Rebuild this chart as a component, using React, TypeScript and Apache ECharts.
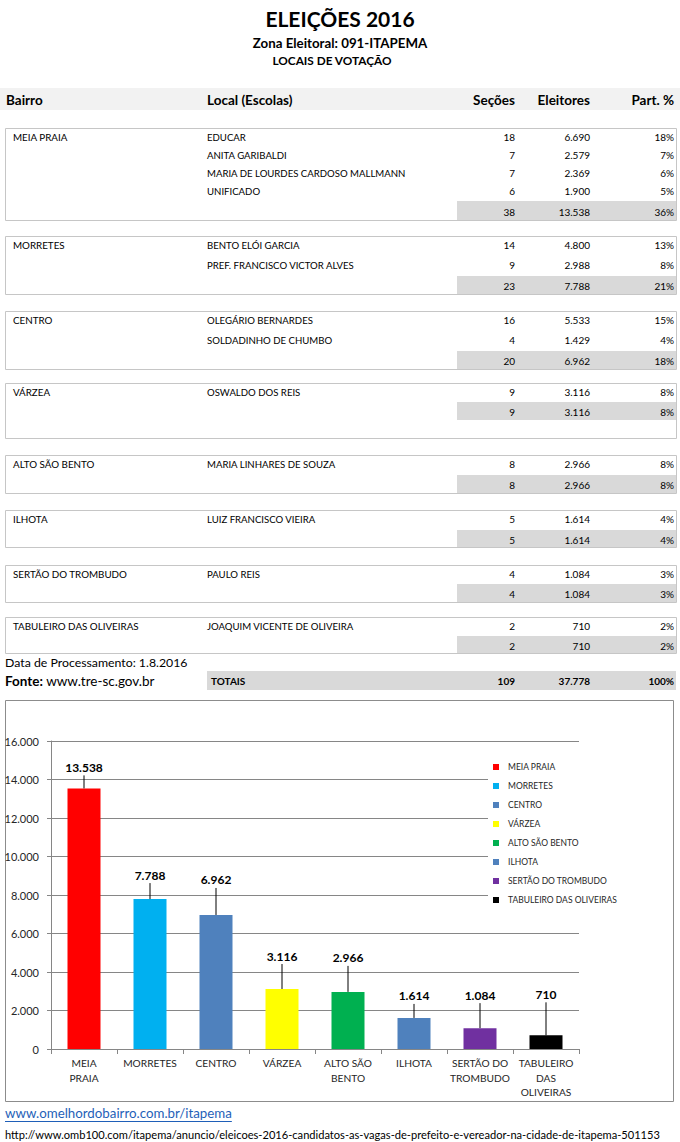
import React, { useEffect, useRef } from "react";
import * as echarts from "echarts";

// ---------- DATA ----------
const bairros = [
  "MEIA PRAIA",
  "MORRETES",
  "CENTRO",
  "VÁRZEA",
  "ALTO SÃO BENTO",
  "ILHOTA",
  "SERTÃO DO TROMBUDO",
  "TABULEIRO DAS OLIVEIRAS",
];
const locais = [
  ["EDUCAR", "ANITA GARIBALDI", "MARIA DE LOURDES CARDOSO MALLMANN", "UNIFICADO"],
  ["BENTO ELÓI GARCIA", "PREF. FRANCISCO VICTOR ALVES"],
  ["OLEGÁRIO BERNARDES", "SOLDADINHO DE CHUMBO"],
  ["OSWALDO DOS REIS"],
  ["MARIA LINHARES DE SOUZA"],
  ["LUIZ FRANCISCO VIEIRA"],
  ["PAULO REIS"],
  ["JOAQUIM VICENTE DE OLIVEIRA"],
];
const secoes = [[18, 7, 7, 6], [14, 9], [16, 4], [9], [8], [5], [4], [2]];
const eleitores = [
  [6690, 2579, 2369, 1900],
  [4800, 2988],
  [5533, 1429],
  [3116],
  [2966],
  [1614],
  [1084],
  [710],
];
const partPct = [[18, 7, 6, 5], [13, 8], [15, 4], [8], [8], [4], [3], [2]];
const subSecoes = [38, 23, 20, 9, 8, 5, 4, 2];
const subEleitores = [13538, 7788, 6962, 3116, 2966, 1614, 1084, 710];
const subPct = [36, 21, 18, 8, 8, 4, 3, 2];
const totalSecoes = 109;
const totalEleitores = 37778;
const totalPct = 100;

const axisCategories = [
  "MEIA\nPRAIA",
  "MORRETES",
  "CENTRO",
  "VÁRZEA",
  "ALTO SÃO\nBENTO",
  "ILHOTA",
  "SERTÃO DO\nTROMBUDO",
  "TABULEIRO\nDAS\nOLIVEIRAS",
];

// ---------- STYLE / LAYOUT ----------
const barColors = ["#FF0000", "#00B0F0", "#4F81BD", "#FFFF00", "#00B050", "#4F81BD", "#7030A0", "#000000"];
const groupTop = [128, 236, 311, 383, 455, 510, 565, 617];
const groupRowStep = [18, 20, 20, 18, 18, 18, 18, 18];
const groupBandTop = [201, 276, 351, 402, 475, 530, 584, 636];
const groupBandBottom = [220, 294, 369, 420, 493, 547, 602, 653];
const groupBottom = [220, 294, 369, 438, 493, 547, 602, 653];
const labelLift = [10, 13, 24, 22, 23, 11, 22, 30];

const FONT = "Lato, 'Noto Sans', sans-serif";
const fmt = (n: number) => String(n).replace(/\B(?=(\d{3})+(?!\d))/g, ".");

const COL_BAIRRO = 13;
const COL_LOCAL = 207;
const COL_SEC = 515;
const COL_ELE = 590;
const COL_PCT = 674;

function txt(x: number, y: number, text: string, size: number, opts: any = {}) {
  return {
    type: "text",
    x,
    y,
    silent: true,
    style: {
      text,
      fill: opts.fill || "#000",
      font: `${opts.bold ? "bold " : ""}${size}px ${FONT}`,
      textAlign: opts.align || "left",
      textVerticalAlign: "middle",
    },
    z: 10,
  };
}

function buildGraphics(linkWidth: number) {
  const g: any[] = [];
  // titles
  g.push(txt(340, 18, "ELEIÇÕES 2016", 21, { bold: true, align: "center" }));
  g.push(txt(340, 43, "Zona Eleitoral: 091-ITAPEMA", 13.3, { bold: true, align: "center" }));
  g.push(txt(332, 60, "LOCAIS DE VOTAÇÃO", 11.8, { bold: true, align: "center" }));
  // header
  g.push({ type: "rect", shape: { x: 0, y: 88, width: 680, height: 22 }, style: { fill: "#f2f2f2" }, z: 1 });
  g.push(txt(6, 100, "Bairro", 13.5, { bold: true }));
  g.push(txt(COL_LOCAL, 100, "Local (Escolas)", 13.5, { bold: true }));
  g.push(txt(COL_SEC, 100, "Seções", 13.5, { bold: true, align: "right" }));
  g.push(txt(COL_ELE, 100, "Eleitores", 13.5, { bold: true, align: "right" }));
  g.push(txt(COL_PCT, 100, "Part. %", 13.5, { bold: true, align: "right" }));

  bairros.forEach((b, i) => {
    const top = groupTop[i];
    g.push({
      type: "rect",
      shape: { x: 5.5, y: top + 0.5, width: 671, height: groupBottom[i] - top },
      style: { fill: "none", stroke: "#c6c6c6", lineWidth: 1 },
      z: 2,
    });
    g.push({
      type: "rect",
      shape: { x: 457, y: groupBandTop[i], width: 219, height: groupBandBottom[i] - groupBandTop[i] },
      style: { fill: "#d9d9d9" },
      z: 1,
    });
    const y0 = top + 9;
    g.push(txt(COL_BAIRRO, y0, b, 9.8));
    locais[i].forEach((l, k) => {
      const y = y0 + k * groupRowStep[i];
      g.push(txt(COL_LOCAL, y, l, 9.6));
      g.push(txt(COL_SEC, y, String(secoes[i][k]), 10, { align: "right" }));
      g.push(txt(COL_ELE, y, fmt(eleitores[i][k]), 10, { align: "right" }));
      g.push(txt(COL_PCT, y, partPct[i][k] + "%", 10, { align: "right" }));
    });
    const ys = (groupBandTop[i] + groupBandBottom[i]) / 2 + 1;
    g.push(txt(COL_SEC, ys, String(subSecoes[i]), 10, { align: "right" }));
    g.push(txt(COL_ELE, ys, fmt(subEleitores[i]), 10, { align: "right" }));
    g.push(txt(COL_PCT, ys, subPct[i] + "%", 10, { align: "right" }));
  });

  // footer of table
  g.push(txt(5, 662, "Data de Processamento: 1.8.2016", 12.3));
  g.push({
    type: "text",
    x: 5,
    y: 681,
    z: 10,
    style: {
      text: "{b|Fonte:} www.tre-sc.gov.br",
      font: `13.5px ${FONT}`,
      fill: "#000",
      textVerticalAlign: "middle",
      rich: { b: { fontWeight: "bold", fontSize: 13.5, fontFamily: FONT, fill: "#000" } },
    },
  });
  g.push({ type: "rect", shape: { x: 207, y: 671, width: 469, height: 19 }, style: { fill: "#d9d9d9" }, z: 1 });
  g.push(txt(211, 681, "TOTAIS", 10, { bold: true }));
  g.push(txt(COL_SEC, 681, String(totalSecoes), 10, { bold: true, align: "right" }));
  g.push(txt(COL_ELE, 681, fmt(totalEleitores), 10, { bold: true, align: "right" }));
  g.push(txt(COL_PCT, 681, totalPct + "%", 10, { bold: true, align: "right" }));

  // chart frame
  g.push({
    type: "rect",
    shape: { x: 5.5, y: 700.5, width: 668, height: 401 },
    style: { fill: "none", stroke: "#8c8c8c", lineWidth: 1 },
    z: 0,
  });

  // links
  g.push(txt(5, 1113, "www.omelhordobairro.com.br/itapema", 13.3, { fill: "#1F5FB8" }));
  g.push({
    type: "line",
    shape: { x1: 5, y1: 1121.5, x2: 5 + linkWidth, y2: 1121.5 },
    style: { stroke: "#1F5FB8", lineWidth: 1 },
    z: 10,
  });
  g.push(
    txt(
      5,
      1134,
      "http://www.omb100.com/itapema/anuncio/eleicoes-2016-candidatos-as-vagas-de-prefeito-e-vereador-na-cidade-de-itapema-501153",
      11.1
    )
  );
  return g;
}

export default function App() {
  const ref = useRef<HTMLDivElement>(null);
  useEffect(() => {
    if (!ref.current) return;
    const chart = echarts.init(ref.current, undefined, { renderer: "svg" });

    let linkWidth = 226;
    try {
      const c = document.createElement("canvas").getContext("2d");
      if (c) {
        c.font = `13.3px ${FONT}`;
        linkWidth = c.measureText("www.omelhordobairro.com.br/itapema").width;
      }
    } catch (e) {}

    const barSeries = bairros.map((name, i) => ({
      name,
      type: "bar",
      stack: "total",
      barWidth: "50%",
      data: subEleitores.map((v, j) => (j === i ? v : "-")),
      itemStyle: { color: barColors[i] },
    }));

    const labelSeries = {
      type: "custom",
      name: "labels",
      silent: true,
      z: 5,
      data: subEleitores.map((v, i) => [i, v]),
      encode: { x: 0, y: 1 },
      renderItem: (params: any, api: any) => {
        const idx = api.value(0);
        const val = api.value(1);
        const pt = api.coord([idx, val]);
        const lift = labelLift[idx];
        const cy = pt[1] - 11 - lift;
        return {
          type: "group",
          children: [
            {
              type: "line",
              shape: { x1: pt[0], y1: pt[1], x2: pt[0], y2: cy + 8 },
              style: { stroke: "#000", lineWidth: 1 },
            },
            {
              type: "text",
              x: pt[0],
              y: cy,
              style: {
                text: fmt(val),
                font: `bold 12px ${FONT}`,
                fill: "#000",
                textAlign: "center",
                textVerticalAlign: "middle",
              },
            },
          ],
        };
      },
    };

    chart.setOption({
      animation: false,
      textStyle: { fontFamily: FONT },
      graphic: { elements: buildGraphics(linkWidth) },
      grid: { left: 51, right: 101, top: 741, bottom: 93, containLabel: false },
      legend: {
        orient: "vertical",
        left: 488,
        top: 752,
        backgroundColor: "#fff",
        padding: [10, 40, 10, 5],
        itemWidth: 6,
        itemHeight: 6,
        itemGap: 9,
        icon: "rect",
        data: bairros,
        selectedMode: false,
        textStyle: { fontSize: 8.5, color: "#262626", padding: [0, 0, 0, 4], fontFamily: FONT, lineHeight: 10 },
      },
      xAxis: {
        type: "category",
        data: axisCategories,
        axisLine: { lineStyle: { color: "#868686" } },
        axisTick: { show: true, alignWithLabel: false, length: 5, lineStyle: { color: "#868686" } },
        axisLabel: { interval: 0, fontSize: 10.2, color: "#262626", lineHeight: 14.5, margin: 7, fontFamily: FONT },
      },
      yAxis: {
        type: "value",
        min: 0,
        max: 16000,
        interval: 2000,
        axisLine: { show: true, lineStyle: { color: "#868686" } },
        axisTick: { show: true, length: 4, lineStyle: { color: "#868686" } },
        axisLabel: { formatter: (v: number) => fmt(v), fontSize: 11, color: "#262626", margin: 12, fontFamily: FONT },
        splitLine: { lineStyle: { color: "#868686" } },
      },
      series: [...barSeries, labelSeries],
    });
    return () => chart.dispose();
  }, []);
  return (
    <div
      ref={ref}
      style={{ position: "absolute", left: 0, top: 0, width: 680, height: 1142, background: "#fff" }}
    />
  );
}
